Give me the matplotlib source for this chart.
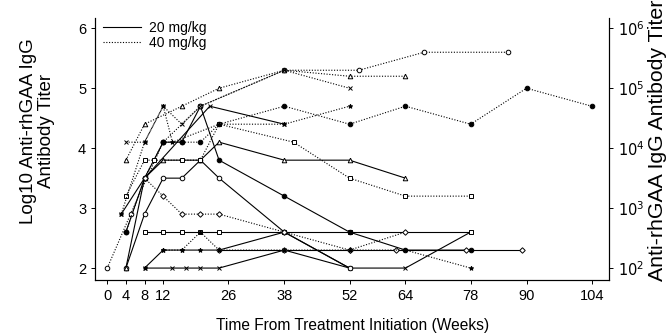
import matplotlib
matplotlib.use('Agg')
import matplotlib.pyplot as plt
from matplotlib.lines import Line2D

plt.rcParams['font.family'] = ['Liberation Sans', 'DejaVu Sans']

# 20 mg/kg patients (solid lines): weeks and log10 titer
s1_t = [8, 14, 17, 20, 24, 38, 52, 64, 78]
s1_v = [2.0, 2.0, 2.0, 2.0, 2.0, 2.3, 2.0, 2.0, 2.6]
s2_t = [8, 12, 16, 20, 24, 38, 52]
s2_v = [2.0, 2.3, 2.3, 2.3, 2.3, 2.6, 2.0]
s3_t = [8, 12, 16, 20, 24, 38, 52, 78]
s3_v = [2.6, 2.6, 2.6, 2.6, 2.6, 2.6, 2.6, 2.6]
s4_t = [4, 8, 12, 16, 20, 24, 38, 52]
s4_v = [2.0, 2.9, 3.5, 3.5, 3.8, 3.5, 2.6, 2.0]
s5_t = [4, 8, 12, 16, 20, 24, 38, 52, 64, 78]
s5_v = [2.6, 3.5, 4.1, 4.1, 4.7, 3.8, 3.2, 2.6, 2.3, 2.3]
s6_t = [4, 8, 12, 20, 24, 38, 52, 64]
s6_v = [2.0, 3.5, 3.8, 3.8, 4.1, 3.8, 3.8, 3.5]
s7_t = [3, 8, 22, 38]
s7_v = [2.9, 3.5, 4.7, 4.4]
s8_t = [24, 38, 52, 62, 77, 89]
s8_v = [2.3, 2.3, 2.3, 2.3, 2.3, 2.3]

# 40 mg/kg patients (dotted lines)
d1_t = [0, 5, 12, 20, 38, 54, 68, 86]
d1_v = [2.0, 2.9, 4.1, 4.7, 5.3, 5.3, 5.6, 5.6]
d2_t = [4, 8, 16, 24, 38, 52, 64]
d2_v = [3.8, 4.4, 4.7, 5.0, 5.3, 5.2, 5.2]
d3_t = [4, 8, 12, 16, 20, 38, 52]
d3_v = [4.1, 4.1, 4.7, 4.4, 4.7, 5.3, 5.0]
d4_t = [4, 8, 12, 16, 20, 24, 38, 52, 64, 78, 90, 104]
d4_v = [2.6, 3.5, 4.1, 4.1, 4.1, 4.4, 4.7, 4.4, 4.7, 4.4, 5.0, 4.7]
d5_t = [4, 8, 10, 16, 20, 24, 40, 52, 64, 78]
d5_v = [3.2, 3.8, 3.8, 3.8, 3.8, 4.4, 4.1, 3.5, 3.2, 3.2]
d6_t = [8, 12, 16, 20, 24, 38, 52, 64]
d6_v = [3.5, 3.2, 2.9, 2.9, 2.9, 2.6, 2.3, 2.6]
d7_t = [3, 8, 12, 14, 24, 38, 52]
d7_v = [2.9, 4.1, 4.7, 4.1, 4.4, 4.4, 4.7]
d8_t = [12, 16, 20, 24, 38, 52, 64, 78]
d8_v = [2.3, 2.3, 2.6, 2.3, 2.3, 2.3, 2.3, 2.0]

solid = [('x', False, s1_t, s1_v), ('*', True, s2_t, s2_v),
         ('s', False, s3_t, s3_v), ('o', False, s4_t, s4_v),
         ('o', True, s5_t, s5_v), ('^', False, s6_t, s6_v),
         ('x', False, s7_t, s7_v), ('D', False, s8_t, s8_v)]
dotted = [('o', False, d1_t, d1_v), ('^', False, d2_t, d2_v),
          ('x', False, d3_t, d3_v), ('o', True, d4_t, d4_v),
          ('s', False, d5_t, d5_v), ('D', False, d6_t, d6_v),
          ('*', True, d7_t, d7_v), ('*', True, d8_t, d8_v)]

xticks = [0, 4, 8, 12, 26, 38, 52, 64, 78, 90, 104]
yticks = [2, 3, 4, 5, 6]
rticks = [1e2, 1e3, 1e4, 1e5, 1e6]
rlabels = ['$10^2$', '$10^3$', '$10^4$', '$10^5$', '$10^6$']

DPI = 100
fig = plt.figure(dpi=DPI, figsize=(670 / DPI, 335 / DPI))
ax = fig.add_axes([0.142, 0.164, 0.767, 0.782])

for ls, group in (('-', solid), ((0, (1, 1.5)), dotted)):
    for m, filled, t, v in group:
        ax.plot(t, v, linestyle=ls, color='black', linewidth=0.8,
                marker=m, markersize=3.3 if m != 'D' else 2.8,
                markerfacecolor='black' if filled else 'white',
                markeredgecolor='black', markeredgewidth=0.7)

ax.set_xlim(-2.6, 107.7)
ax.set_ylim(1.8, 6.17)
ax.set_xticks(xticks)
ax.set_yticks(yticks)
ax.tick_params(labelsize=10.5, length=3, width=0.7, direction='out')
ax.spines['top'].set_visible(False)
for s in ('left', 'bottom', 'right'):
    ax.spines[s].set_linewidth(0.8)
ax.set_xlabel('Time From Treatment Initiation (Weeks)', fontsize=11.2)
ax.xaxis.set_label_coords(0.5, -0.145)
ax.set_ylabel('Log10 Anti-rhGAA IgG\nAntibody Titer', fontsize=13.5, linespacing=1.1)
ax.yaxis.set_label_coords(-0.078, 0.57)

ax2 = ax.twinx()
ax2.set_yscale('log')
ax2.set_ylim(10 ** 1.8, 10 ** 6.17)
ax2.set_yticks(rticks)
ax2.set_yticklabels(rlabels)
ax2.minorticks_off()
ax2.tick_params(labelsize=10.5, length=3, width=0.7)
ax2.spines['top'].set_visible(False)
ax2.set_ylabel('Anti-rhGAA IgG Antibody Titer', fontsize=15.3)
ax2.yaxis.set_label_coords(1.076, 0.534)

handles = [Line2D([0], [0], color='black', lw=0.8, linestyle='-'),
           Line2D([0], [0], color='black', lw=0.8, linestyle=(0, (1, 1.5)))]
ax.legend(handles, ['20 mg/kg', '40 mg/kg'], loc='upper left', frameon=False,
          fontsize=10, handlelength=2.7, handletextpad=0.6, borderaxespad=0.2,
          labelspacing=0.05, bbox_to_anchor=(0.0, 1.02))

fig.savefig('out.png')
